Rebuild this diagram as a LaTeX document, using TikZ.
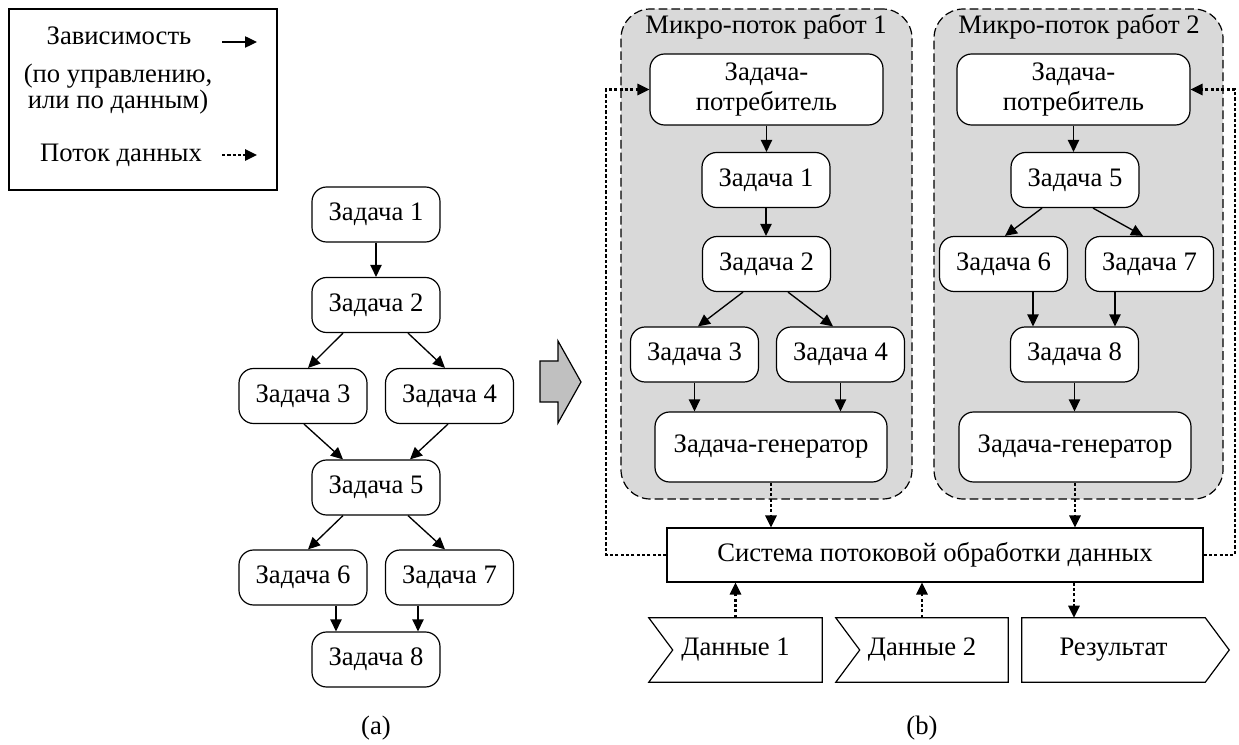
\documentclass[tikz,border=0pt]{standalone}
\usepackage{fontspec}
\setmainfont{Liberation Serif}
\usetikzlibrary{arrows.meta,calc}
\definecolor{grp}{HTML}{D9D9D9}
\definecolor{bigar}{HTML}{C0C0C0}
\begin{document}
\begin{tikzpicture}[x=0.75pt,y=-0.75pt,
  every node/.style={font=\fontsize{20}{22}\selectfont, text=black},
  task/.style={draw, line width=0.9pt, rounded corners=11pt, fill=white, minimum width=96pt, minimum height=41.25pt, inner sep=0pt, align=center},
  big/.style={task, minimum width=174.5pt, minimum height=53pt},
  dep/.style={line width=1pt, -{Triangle[length=9pt,width=8.5pt]}},
  flow/.style={line width=1.6pt, dash pattern=on 2.4pt off 1.6pt, -{Triangle[length=9pt,width=8.5pt]}},
  group/.style={draw, line width=0.9pt, dash pattern=on 6.5pt off 3pt, fill=grp, rounded corners=22pt, inner sep=0pt},
  plain/.style={inner sep=0pt}
]
\fill[white] (0,0) rectangle (1239,745);
\useasboundingbox (0,0) rectangle (1239,745);

% legend
\node[draw, line width=0.9pt, minimum width=201pt, minimum height=135.75pt, inner sep=0pt] (leg) at (143,99.5) {};
\node[plain, anchor=base] (l1) at (119,45) {Зависимость};
\node[plain, anchor=base] (l2) at (118,83) {(по управлению,};
\node[plain, anchor=base] (l3) at (118,109) {или по данным)};
\node[plain, anchor=base] (l4) at (121,162) {Поток данных};
\coordinate (a1s) at (222,42); \coordinate (a1e) at (257,42);
\coordinate (a2s) at (222,155); \coordinate (a2e) at (257,155);
\draw[dep] (a1s) -- (a1e);
\draw[flow] (a2s) -- (a2e);

% left graph (a)
\node[task] (t1) at (376,214.5) {Задача 1};
\node[task] (t2) at (376,305) {Задача 2};
\node[task] (t3) at (303,396) {Задача 3};
\node[task] (t4) at (449.5,396) {Задача 4};
\node[task] (t5) at (376,487.5) {Задача 5};
\node[task] (t6) at (303,577.5) {Задача 6};
\node[task] (t7) at (449.5,577.5) {Задача 7};
\node[task] (t8) at (376,659.5) {Задача 8};
\draw[dep] (t1.south) -- (t2.north);
\draw[dep] ($(t2.south)+(-33,0)$) -- ($(t3.north)+(5,0)$);
\draw[dep] ($(t2.south)+(32,0)$) -- ($(t4.north)+(-4.5,0)$);
\draw[dep] ($(t3.south)+(1,0)$) -- ($(t5.north)+(-33,0)$);
\draw[dep] ($(t4.south)+(-1.5,0)$) -- ($(t5.north)+(34,0)$);
\draw[dep] ($(t5.south)+(-33,0)$) -- ($(t6.north)+(5,0)$);
\draw[dep] ($(t5.south)+(32,0)$) -- ($(t7.north)+(-4.5,0)$);
\draw[dep] ($(t6.south)+(33,0)$) -- ($(t8.north)+(-40,0)$);
\draw[dep] ($(t7.south)+(-31.5,0)$) -- ($(t8.north)+(42,0)$);
\node[plain] (la) at (376,728) {(a)};

% big arrow
\draw[line width=0.9pt, fill=bigar] (540,361) -- (558,361) -- (558,341) -- (581,382) -- (558,423) -- (558,402) -- (540,402) -- cycle;

% right part (b)
\node[group, minimum width=218.25pt, minimum height=367.5pt] (g1) at (766.5,254) {};
\node[group, minimum width=216.75pt, minimum height=367.5pt] (g2) at (1078.5,254) {};
\node[plain, anchor=base] (g1t) at (766,34) {Микро-поток работ 1};
\node[plain, anchor=base] (g2t) at (1079,34) {Микро-поток работ 2};

\node[big, minimum width=174.75pt, minimum height=53.25pt] (c1) at (766.5,89.5) {Задача-\\потребитель};
\node[task] (r1) at (766,180) {Задача 1};
\node[task] (r2) at (766.5,264) {Задача 2};
\node[task] (r3) at (694.5,354.5) {Задача 3};
\node[task] (r4) at (840.5,354.5) {Задача 4};
\node[big, minimum width=174pt, minimum height=52.5pt] (gen1) at (771,447) {Задача-генератор};

\node[big, minimum width=174.75pt, minimum height=53.25pt] (c2) at (1073.5,89.5) {Задача-\\потребитель};
\node[task] (r5) at (1075,180) {Задача 5};
\node[task] (r6) at (1003.5,264) {Задача 6};
\node[task] (r7) at (1149.5,264) {Задача 7};
\node[task] (r8) at (1074.5,354.5) {Задача 8};
\node[big, minimum width=174pt, minimum height=52.5pt] (gen2) at (1075,447) {Задача-генератор};

\draw[dep] (c1.south) -- (c1.south |- r1.north);
\draw[dep] (r1.south) -- (r1.south |- r2.north);
\draw[dep] ($(r2.south)+(-23.5,0)$) -- ($(r3.north)+(3.5,0)$);
\draw[dep] ($(r2.south)+(21.5,0)$) -- ($(r4.north)+(-7.5,0)$);
\draw[dep] (r3.south) -- (r3.south |- gen1.north);
\draw[dep] (r4.south) -- (r4.south |- gen1.north);

\draw[dep] (c2.south) -- (c2.south |- r5.north);
\draw[dep] ($(r5.south)+(-33,0)$) -- ($(r6.north)+(1.5,0)$);
\draw[dep] ($(r5.south)+(18,0)$) -- ($(r7.north)+(-6.5,0)$);
\draw[dep] ($(r6.south)+(29.5,0)$) -- ($(r8.north)+(-41.5,0)$);
\draw[dep] ($(r7.south)+(-34.5,0)$) -- ($(r8.north)+(40.5,0)$);
\draw[dep] (r8.south) -- (r8.south |- gen2.north);

\node[draw, line width=0.9pt, minimum width=402pt, minimum height=40.5pt, inner sep=0pt] (sys) at (935,555) {Система потоковой обработки данных};

\draw[flow] (gen1.south) -- (gen1.south |- sys.north);
\draw[flow] (gen2.south) -- (gen2.south |- sys.north);
\draw[flow] (sys.west) -| ($(c1.west)+(-43,0)$) -- (c1.west);
\draw[flow] (sys.east) -| ($(c2.east)+(44,0)$) -- (c2.east);

% data
\node[plain, minimum width=129.75pt, minimum height=48pt] (d1) at (735.5,650) {Данные 1};
\node[plain, minimum width=129pt, minimum height=48pt] (d2) at (922,650) {Данные 2};
\node[plain, minimum width=137.25pt, minimum height=48pt] (res) at (1113.5,650) {Результат};
\draw[line width=0.9pt] (d1.north west) -- (d1.north east) -- (d1.south east) -- (d1.south west) -- ($(d1.west)+(24,0)$) -- cycle;
\draw[line width=0.9pt] (d2.north west) -- (d2.north east) -- (d2.south east) -- (d2.south west) -- ($(d2.west)+(24,0)$) -- cycle;
\draw[line width=0.9pt] (res.north west) -- (res.north east) -- ($(res.east)+(24,0)$) -- (res.south east) -- (res.south west) -- cycle;
\draw[flow] (d1.north) -- (d1.north |- sys.south);
\draw[flow] (d2.north) -- (d2.north |- sys.south);
\draw[flow] ($(sys.south)+(139,0)$) -- ($(res.north)+(-39.5,0)$);
\node[plain] (lb) at (922,728) {(b)};
\end{tikzpicture}
\end{document}
